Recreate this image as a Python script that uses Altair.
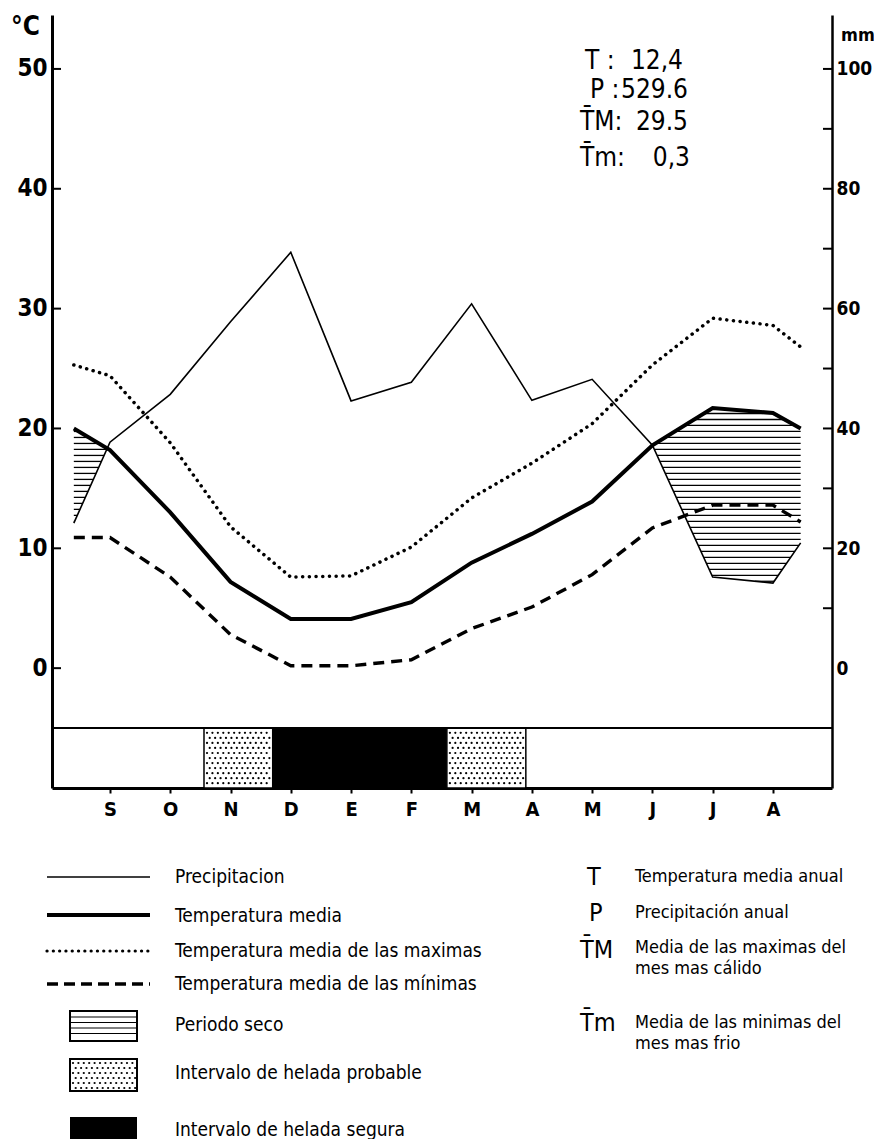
import altair as alt
import pandas as pd
import numpy as np

FONT = "Liberation Sans Narrow, DejaVu Sans Condensed, Arial Narrow, sans-serif"

# ---------------- data ----------------
months = ["S", "O", "N", "D", "E", "F", "M", "A", "M", "J", "J", "A"]
# month index of each data point (edge points before S and after A)
x_pts = [-0.60, 0, 1, 2, 3, 4, 5, 6, 7, 8, 9, 10, 11, 11.46]
temp_mean = [20.0, 18.2, 13.0, 7.2, 4.1, 4.1, 5.5, 8.8, 11.2, 13.9, 18.6, 21.7, 21.3, 20.0]
temp_max = [25.3, 24.4, 18.8, 11.8, 7.6, 7.7, 10.1, 14.2, 17.1, 20.4, 25.3, 29.2, 28.6, 26.8]
temp_min = [10.9, 10.9, 7.6, 2.8, 0.2, 0.2, 0.7, 3.3, 5.1, 7.8, 11.7, 13.6, 13.6, 12.2]
precip_mm = [24.2, 37.7, 45.7, 57.8, 69.4, 44.6, 47.7, 60.8, 44.7, 48.2, 37.2, 15.2, 14.2, 20.9]

# frost intervals (month index)
frost_kind = ["probable", "segura", "probable"]
frost_start = [1.56, 2.70, 5.59]
frost_end = [2.70, 5.59, 6.90]

left_ticks = [0, 10, 20, 30, 40, 50]
right_labels = [0, 20, 40, 60, 80, 100]
right_ticks = [10, 20, 30, 40, 50, 60, 70, 80, 90, 100]

stat_labels = ["T :", "P :", "T\u0304M:", "T\u0304m:"]
stat_values = ["12,4", "529.6", "29.5", "0,3"]

legend_left = ["Precipitacion", "Temperatura media", "Temperatura media de las maximas",
               "Temperatura media de las mínimas", "Periodo seco",
               "Intervalo de helada probable", "Intervalo de helada segura"]
legend_right_sym = ["T", "P", "T\u0304M", "T\u0304m"]
legend_right_txt = ["Temperatura media anual", "Precipitación anual",
                    "Media de las maximas del", "mes mas cálido",
                    "Media de las minimas del", "mes mas frio"]

# ---------------- scales / axes ----------------
W, H = 780, 773
xscale = alt.Scale(domain=[-0.962, 11.98], nice=False, zero=False)
yscale = alt.Scale(domain=[-10, 54.5], nice=False, zero=False)
mmscale = alt.Scale(domain=[-20, 109], nice=False, zero=False)

label_expr = "[" + ",".join("'%s'" % m for m in months) + "][datum.value]"
xaxis = alt.Axis(values=list(range(12)), labelExpr=label_expr, title=None, grid=False,
                 domainWidth=3, domainColor="black", tickColor="black", tickWidth=2,
                 tickSize=5, labelFont=FONT, labelFontSize=20, labelFontWeight="bold",
                 labelColor="black", labelPadding=6)
yaxis = alt.Axis(values=left_ticks, title=None, grid=False, ticks=False,
                 domainWidth=3, domainColor="black", labelFont=FONT, labelFontSize=24,
                 labelFontWeight="bold", labelColor="black", labelPadding=5,
                 labelFlush=False, labelBound=False)
raxis = alt.Axis(values=right_labels, title=None, grid=False, ticks=False, orient="right",
                 domainWidth=2.5, domainColor="black", labelFont=FONT, labelFontSize=19,
                 labelFontWeight="bold", labelColor="black", labelPadding=4,
                 labelFlush=False, labelBound=False)


def X(f):
    return alt.X(f, type="quantitative", scale=xscale, axis=xaxis)


def Y(f):
    return alt.Y(f, type="quantitative", scale=yscale, axis=yaxis)


lines = pd.DataFrame({"x": x_pts, "tmean": temp_mean, "tmax": temp_max,
                      "tmin": temp_min, "pc": np.array(precip_mm) / 2.0})

layers = []

# dry period hatching (between temperature and precipitation where T > P/2)
xs = np.linspace(x_pts[0], x_pts[-1], 6000)
Ti = np.interp(xs, x_pts, temp_mean)
Pi = np.interp(xs, x_pts, np.array(precip_mm) / 2.0)
segs = []
for h in np.arange(0.25, 40, 0.5):
    m = (Pi <= h) & (Ti >= h)
    if not m.any():
        continue
    idx = np.where(m)[0]
    breaks = np.where(np.diff(idx) > 1)[0]
    starts = np.concatenate([[idx[0]], idx[breaks + 1]])
    ends = np.concatenate([idx[breaks], [idx[-1]]])
    for s, e in zip(starts, ends):
        segs.append({"x0": xs[s], "x1": xs[e], "h": h})
hatch = pd.DataFrame(segs)
layers.append(alt.Chart(hatch).mark_rule(color="black", strokeWidth=1.3).encode(
    x=X("x0"), x2=alt.X2("x1"), y=Y("h")))

# frost band
frost = pd.DataFrame({"kind": frost_kind, "x0": frost_start, "x1": frost_end,
                      "y0": [-10] * 3, "y1": [-5] * 3})
layers.append(alt.Chart(frost[frost.kind == "segura"]).mark_rect(color="black").encode(
    x=X("x0"), x2=alt.X2("x1"), y=Y("y0"), y2=alt.Y2("y1")))
layers.append(alt.Chart(frost[frost.kind == "probable"]).mark_rect(
    fill="white", stroke="black", strokeWidth=1.5).encode(
    x=X("x0"), x2=alt.X2("x1"), y=Y("y0"), y2=alt.Y2("y1")))
# stipple texture
dots = []
for s, e in zip(np.array(frost_start)[[0, 2]], np.array(frost_end)[[0, 2]]):
    for r, yy in enumerate(np.arange(-9.6, -5.2, 0.42)):
        off = 0.045 if r % 2 else 0.0
        for xx in np.arange(s + 0.05 + off, e - 0.03, 0.09):
            dots.append({"x": xx, "y": yy})
layers.append(alt.Chart(pd.DataFrame(dots)).mark_circle(color="black", size=5, opacity=1).encode(
    x=X("x"), y=Y("y")))

# -5 separator line
layers.append(alt.Chart(pd.DataFrame({"v": [-5]})).mark_rule(color="black", strokeWidth=2).encode(
    y=Y("v")))

# series lines
layers.append(alt.Chart(lines).mark_line(color="black", strokeWidth=1.6).encode(x=X("x"), y=Y("pc")))
layers.append(alt.Chart(lines).mark_line(color="black", strokeWidth=3.5, strokeDash=[0.1, 6.6],
                                         strokeCap="round").encode(x=X("x"), y=Y("tmax")))
layers.append(alt.Chart(lines).mark_line(color="black", strokeWidth=3.4, strokeDash=[11, 7]).encode(
    x=X("x"), y=Y("tmin")))
layers.append(alt.Chart(lines).mark_line(color="black", strokeWidth=4).encode(x=X("x"), y=Y("tmean")))

# left inward ticks
layers.append(alt.Chart(pd.DataFrame({"v": left_ticks})).mark_rule(color="black", strokeWidth=2).encode(
    y=Y("v"), x=alt.value(0), x2=alt.value(9)))


def txt(text, px, py, size, weight="normal", align="left"):
    return alt.Chart(pd.DataFrame({"t": [text]})).mark_text(
        font=FONT, fontSize=size, fontWeight=weight, align=align, baseline="middle",
        color="black").encode(text="t:N", x=alt.value(px), y=alt.value(py))


# unit titles
layers.append(txt("°C", -41, 12, 26, "bold"))
layers.append(txt("mm", 789, 21, 18, "bold"))

# statistics block
for lab, val, lx, vx, py in zip(stat_labels, stat_values, [533, 538, 528, 528],
                                [631, 636, 636, 638], [46, 75, 107, 143]):
    layers.append(txt(lab, lx, py, 26))
    layers.append(txt(val, vx, py, 26, align="right"))

# legend: lines
ly = [862, 900, 936, 969]
styles = [dict(strokeWidth=1.6), dict(strokeWidth=4),
          dict(strokeWidth=3.2, strokeDash=[0.1, 6.2], strokeCap="round"),
          dict(strokeWidth=3.4, strokeDash=[11, 6])]
for yy, st in zip(ly, styles):
    layers.append(alt.Chart(pd.DataFrame({"v": [0]})).mark_rule(color="black", **st).encode(
        x=alt.value(-5), x2=alt.value(98), y=alt.value(yy)))

text_y = [862, 901, 936, 969, 1010, 1058, 1115]
for t, yy in zip(legend_left, text_y):
    layers.append(txt(t, 123, yy, 19))

# legend boxes
layers.append(alt.Chart(pd.DataFrame({"v": [0]})).mark_rect(
    fill="white", stroke="black", strokeWidth=2).encode(
    x=alt.value(18), x2=alt.value(85), y=alt.value(996), y2=alt.value(1026)))
hl = pd.DataFrame({"py": list(np.arange(1002, 1024, 5.5))})
layers.append(alt.Chart(hl).mark_rule(color="black", strokeWidth=1.2).encode(
    x=alt.value(18), x2=alt.value(85), y=alt.Y("py:Q", scale=None, axis=None)))
layers.append(alt.Chart(pd.DataFrame({"v": [0]})).mark_rect(
    fill="white", stroke="black", strokeWidth=2).encode(
    x=alt.value(18), x2=alt.value(85), y=alt.value(1044), y2=alt.value(1076)))
ld = []
for r, yy in enumerate(np.arange(1048, 1074, 5)):
    off = 2.7 if r % 2 else 0.0
    for xx in np.arange(21 + off, 84, 5.4):
        ld.append({"px": xx, "py": yy})
layers.append(alt.Chart(pd.DataFrame(ld)).mark_circle(color="black", size=5, opacity=1).encode(
    x=alt.X("px:Q", scale=None, axis=None), y=alt.Y("py:Q", scale=None, axis=None)))
layers.append(alt.Chart(pd.DataFrame({"v": [0]})).mark_rect(color="black").encode(
    x=alt.value(18), x2=alt.value(85), y=alt.value(1102), y2=alt.value(1131)))

# right legend
for s, sx, sy in zip(legend_right_sym, [535, 537, 528, 528], [862, 898, 935, 1008]):
    layers.append(txt(s, sx, sy, 25))
for t, yy in zip(legend_right_txt, [862, 898, 933, 954, 1008, 1029]):
    layers.append(txt(t, 583, yy, 18))

main = alt.layer(*layers)

# right mm axis layer
right = alt.Chart(pd.DataFrame({"v": right_ticks})).mark_rule(color="black", strokeWidth=2).encode(
    y=alt.Y("v:Q", scale=mmscale, axis=raxis), x=alt.value(771), x2=alt.value(780))

chart = alt.layer(main, right).resolve_scale(y="independent").properties(
    width=W, height=H,
    autosize=alt.AutoSizeParams(type="none"),
    padding={"left": 44, "top": 7, "right": 42, "bottom": 351},
    background="white",
).configure_view(stroke=None)

chart.save("out.html", embed_options={"renderer": "svg", "actions": False})
